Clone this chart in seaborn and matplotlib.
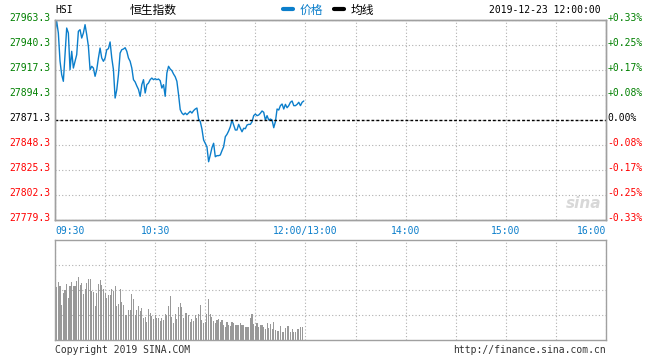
import numpy as np
import pandas as pd
import seaborn as sns
import matplotlib.pyplot as plt
from matplotlib.lines import Line2D
from matplotlib.transforms import ScaledTranslation

# HSI intraday, one point per minute from 09:30
price = [27952.9, 27962.1, 27951.3, 27925.6, 27913.0, 27906.9, 27931.4, 27955.9, 27951.3, 27917.6,
         27934.5, 27919.1, 27925.3, 27931.4, 27952.9, 27954.4, 27946.7, 27951.3, 27959.0, 27949.8,
         27939.1, 27917.6, 27920.7, 27919.1, 27911.5, 27917.6, 27928.3, 27937.5, 27928.3, 27925.3,
         27928.3, 27936.0, 27936.9, 27943.1, 27928.3, 27917.6, 27891.5, 27899.2, 27913.0, 27932.9,
         27936.0, 27936.6, 27937.8, 27934.5, 27928.3, 27925.3, 27919.1, 27908.4, 27906.3, 27902.6,
         27899.4, 27893.1, 27903.8, 27908.4, 27896.1, 27903.8, 27905.3, 27908.4, 27909.9, 27908.4,
         27909.3, 27908.4, 27909.0, 27907.5, 27900.7, 27903.8, 27893.1, 27914.5, 27920.7, 27918.2,
         27916.7, 27913.6, 27911.1, 27906.9, 27894.6, 27880.8, 27877.7, 27876.2, 27877.7, 27876.2,
         27877.7, 27879.3, 27877.7, 27879.9, 27881.4, 27882.3, 27872.2, 27869.9, 27863.0, 27852.9,
         27849.9, 27846.7, 27832.9, 27839.1, 27845.8, 27849.9, 27837.5, 27838.5, 27838.5, 27839.1,
         27843.1, 27846.7, 27855.9, 27858.1, 27861.2, 27865.1, 27871.3, 27866.7, 27862.1, 27862.1,
         27867.3, 27863.7, 27860.5, 27863.7, 27863.3, 27866.7, 27867.3, 27867.3, 27869.7, 27875.3,
         27876.8, 27875.3, 27875.9, 27877.5, 27879.6, 27878.4, 27871.3, 27875.3, 27871.3, 27872.2,
         27871.3, 27864.2, 27869.7, 27881.4, 27880.5, 27884.5, 27886.0, 27881.4, 27885.7, 27882.6,
         27884.5, 27887.6, 27888.8, 27884.5, 27884.5, 27885.7, 27887.6, 27884.5, 27887.6, 27888.8]

volume = [53, 58, 54, 35, 47, 50, 56, 42, 54, 58,
          54, 54, 59, 63, 55, 57, 46, 51, 57, 61,
          61, 49, 48, 34, 47, 56, 60, 55, 51, 47,
          42, 45, 45, 51, 49, 54, 34, 36, 51, 38,
          35, 25, 25, 30, 30, 46, 41, 25, 30, 34,
          29, 32, 22, 23, 18, 31, 27, 24, 21, 25,
          22, 22, 19, 22, 20, 26, 25, 34, 44, 23,
          17, 26, 21, 33, 37, 33, 22, 27, 27, 25,
          18, 21, 19, 25, 22, 26, 35, 20, 17, 18,
          26, 41, 26, 23, 19, 17, 20, 21, 18, 20,
          15, 13, 18, 15, 14, 18, 17, 15, 15, 15,
          17, 15, 15, 13, 13, 13, 22, 26, 16, 14,
          17, 13, 15, 15, 13, 11, 17, 12, 16, 11,
          18, 10, 9, 9, 14, 8, 8, 12, 14, 14,
          8, 11, 8, 8, 11, 11, 13, 13]

base_price = 27871.3
price_ticks = [27963.3, 27940.3, 27917.3, 27894.3, 27871.3, 27848.3, 27825.3, 27802.3, 27779.3]
pct_labels = ['+0.33%', '+0.25%', '+0.17%', '+0.08%', '0.00%', '-0.08%', '-0.17%', '-0.25%', '-0.33%']
time_ticks = [0, 60, 150, 210, 270, 330]
time_labels = ['09:30', '10:30', '12:00/13:00', '14:00', '15:00', '16:00']

blue = '#0b7ecb'
green = '#008000'
red = '#ff0000'
spine_grey = '#a0a0a0'
grid_kw = dict(color='#b0b0b0', linestyle=(0, (1, 2)), linewidth=0.8)

sns.set_theme(style='white')
plt.rcParams['font.family'] = ['DejaVu Sans Mono', 'Noto Sans CJK SC']

fig = plt.figure(figsize=(6.6, 3.6), dpi=100)
ax = fig.add_axes([55 / 660, 140 / 360, 551 / 660, 200 / 360])
ax_vol = fig.add_axes([55 / 660, 20 / 360, 551 / 660, 100 / 360])

# price line
df = pd.DataFrame({'minute': np.arange(len(price)), 'price': price})
sns.lineplot(data=df, x='minute', y='price', color=blue, linewidth=1, ax=ax)

ax.set_xlim(0, 330)
ax.set_ylim(price_ticks[-1], price_ticks[0])
ax.set_xlabel('')
ax.set_ylabel('')
ax.grid(True, **grid_kw)
ax.axhline(base_price, color='black', linestyle=(0, (2, 1.5)), linewidth=1)

grid_x = np.arange(0, 331, 30)
ax.set_xticks(grid_x)
ax.set_xticklabels([time_labels[time_ticks.index(t)] if t in time_ticks else '' for t in grid_x])
ax.tick_params(axis='x', length=0, pad=4, labelsize=7, labelcolor=blue)
xl = ax.get_xticklabels()
xl[0].set_ha('left')
xl[-1].set_ha('right')


def tick_color(v):
    if v > base_price + 0.01:
        return green
    if v < base_price - 0.01:
        return red
    return 'black'


shift = ScaledTranslation(0, 0.03, fig.dpi_scale_trans)

ax.set_yticks(price_ticks)
ax.set_yticklabels([f'{v:.1f}' for v in price_ticks])
ax.tick_params(axis='y', length=0, pad=3, labelsize=7)
for lab, v in zip(ax.get_yticklabels(), price_ticks):
    lab.set_color(tick_color(v))
    lab.set_transform(lab.get_transform() + shift)

ax_r = ax.twinx()
ax_r.set_ylim(price_ticks[-1], price_ticks[0])
ax_r.set_yticks(price_ticks)
ax_r.set_yticklabels(pct_labels)
ax_r.tick_params(axis='y', length=0, pad=1, labelsize=7)
for lab, v in zip(ax_r.get_yticklabels(), price_ticks):
    lab.set_color(tick_color(v))
    lab.set_transform(lab.get_transform() + shift)

for a in (ax, ax_r, ax_vol):
    for s in a.spines.values():
        s.set_color(spine_grey)
        s.set_linewidth(1)

# volume bars
vol_df = pd.DataFrame({'minute': np.arange(1, len(volume) + 1), 'volume': volume})
sns.barplot(data=vol_df, x='minute', y='volume', native_scale=True, width=0.65,
            color='#999999', saturation=1, linewidth=0, errorbar=None,
            antialiased=False, ax=ax_vol)
ax_vol.set_xlim(0, 330)
ax_vol.set_ylim(0, 100)
ax_vol.set_xticks(grid_x)
ax_vol.set_yticks([25, 50, 75])
ax_vol.set_xticklabels([])
ax_vol.set_yticklabels([])
ax_vol.tick_params(length=0)
ax_vol.set_xlabel('')
ax_vol.set_ylabel('')
ax_vol.grid(True, **grid_kw)
ax_vol.set_axisbelow(True)

# header
fig.text(55 / 660, 1 - 10 / 360, 'HSI', fontsize=7, va='center', ha='left', color='black')
fig.text(130 / 660, 1 - 10 / 360, '恒生指数', fontsize=8.5, family='Noto Sans CJK SC',
         va='center', ha='left', color='black')
handles = [Line2D([], [], color=blue, lw=3), Line2D([], [], color='black', lw=3)]
fig.legend(handles=handles, labels=['价格', '均线'], loc='center left',
           bbox_to_anchor=(283 / 660, 1 - 10 / 360), ncol=2, frameon=False,
           handlelength=0.85, handletextpad=0.55, columnspacing=0.9,
           borderpad=0, borderaxespad=0,
           prop={'family': 'Noto Sans CJK SC', 'size': 8.5}, labelcolor=[blue, 'black'])
fig.text(601 / 660, 1 - 10 / 360, '2019-12-23 12:00:00', fontsize=7, va='center', ha='right',
         color='black')

# watermark
fig.text(584 / 660, 1 - 204 / 360, 'sina', fontsize=11, family='DejaVu Sans', style='italic',
         weight='bold', color='#d8d8d8', ha='center', va='center')

# footer
fig.text(55 / 660, 1 - 350 / 360, 'Copyright 2019 SINA.COM', fontsize=7, va='center',
         ha='left', color='#333333')
fig.text(606 / 660, 1 - 350 / 360, 'http://finance.sina.com.cn', fontsize=7, va='center',
         ha='right', color='#333333')

fig.savefig('out.png', dpi=100)
